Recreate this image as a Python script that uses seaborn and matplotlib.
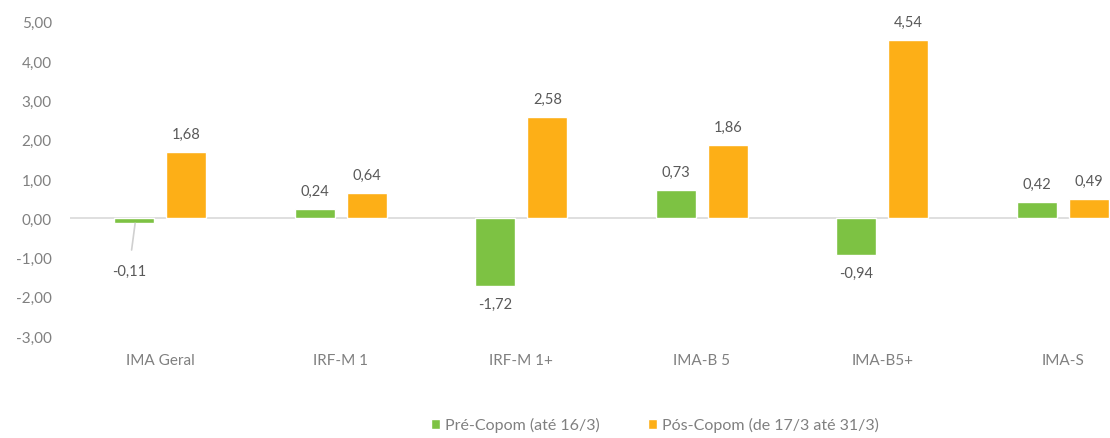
import pandas as pd
import matplotlib.pyplot as plt
import seaborn as sns
from matplotlib.patches import Patch

# Dados do gráfico
indices = ["IMA Geral", "IRF-M 1", "IRF-M 1+", "IMA-B 5", "IMA-B5+", "IMA-S"]
pre_copom = [-0.11, 0.24, -1.72, 0.73, -0.94, 0.42]
pos_copom = [1.68, 0.64, 2.58, 1.86, 4.54, 0.49]
series = ["Pré-Copom (até 16/3)", "Pós-Copom (de 17/3 até 31/3)"]
cores = ["#7dc243", "#fdaf17"]

df = pd.DataFrame({
    "indice": indices * 2,
    "serie": [series[0]] * len(indices) + [series[1]] * len(indices),
    "valor": pre_copom + pos_copom,
})

sns.set_style("white")
plt.rcParams["font.family"] = ["Lato", "DejaVu Sans"]

def fmt(v):
    return f"{v:.2f}".replace(".", ",")

fig = plt.figure(figsize=(11.1, 4.39), dpi=100)
ax = fig.add_axes([0.063, 0.232, 0.976, 0.716])

sns.barplot(data=df, x="indice", y="valor", hue="serie", palette=cores,
            width=0.576, gap=0.23, ax=ax, legend=False, saturation=1)

ax.set_ylim(-3, 5)
ax.set_yticks(range(-3, 6))
ax.set_yticklabels([fmt(v) for v in range(-3, 6)])
ax.axhline(0, color="#d9d9d9", lw=1.2, zorder=0)
sns.despine(ax=ax, left=True, bottom=True)
ax.set_xlabel("")
ax.set_ylabel("")
ax.tick_params(axis="y", length=0, pad=13, labelsize=11, labelcolor="#808080")
ax.tick_params(axis="x", length=0, pad=12, labelsize=11, labelcolor="#808080")

lbl_color = "#595959"
for cont, vals in zip(ax.containers, [pre_copom, pos_copom]):
    labels = [fmt(v) if v != -0.11 else "" for v in vals]
    ax.bar_label(cont, labels=labels, padding=8, fontsize=10.5, color=lbl_color)

# rótulo deslocado com linha guia
bar = ax.containers[0][0]
bx = bar.get_x() + bar.get_width() / 2
ax.annotate(fmt(-0.11), xy=(bx + 0.005, -0.13), xytext=(bx - 0.03, -1.35),
            ha="center", va="center", fontsize=10.5, color=lbl_color,
            arrowprops=dict(arrowstyle="-", color="#d0d0d0", lw=1.2,
                            shrinkA=8, shrinkB=0))

handles = [Patch(facecolor=c, label=s) for c, s in zip(cores, series)]
fig.legend(handles=handles, loc="lower center", bbox_to_anchor=(0.59, -0.02),
           ncol=2, frameon=False, fontsize=11.5, labelcolor="#808080",
           handlelength=0.6, handleheight=0.6, handletextpad=0.3, columnspacing=3)

fig.savefig("out.png", dpi=100)
